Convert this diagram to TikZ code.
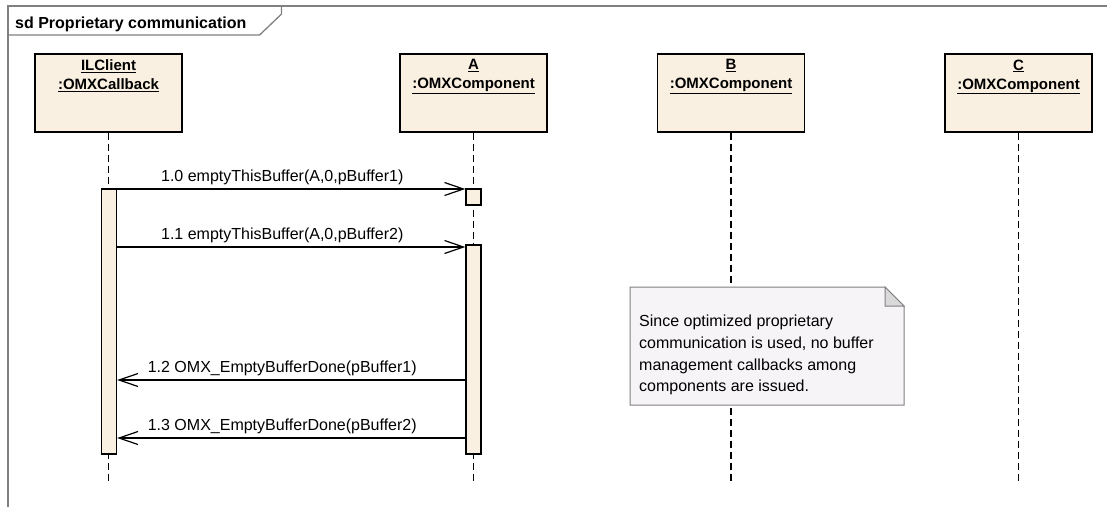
\documentclass[tikz,border=0pt]{standalone}
\usepackage{fontspec}
\setmainfont{Liberation Sans}
\usepackage{xcolor}
\usetikzlibrary{arrows.meta}
\usetikzlibrary{positioning}

\definecolor{headfill}{RGB}{250,240,225}
\definecolor{notefill}{RGB}{247,244,247}
\definecolor{framegray}{RGB}{128,128,128}
\definecolor{foldgray}{RGB}{217,217,217}

\begin{document}
\begin{tikzpicture}[x=1pt,y=-1pt,
  every node/.style={font=\fontsize{16}{19}\selectfont},
  head/.style={rectangle,draw,fill=headfill,line width=1.3pt,minimum width=147pt,minimum height=78pt,inner sep=0pt},
  headtext/.style={font=\fontsize{15}{19}\selectfont\bfseries,align=center,anchor=north,inner sep=0pt},
  life/.style={dash pattern=on 7pt off 4pt,line width=1.3pt},
  act/.style={rectangle,draw,fill=headfill,line width=1.3pt,minimum width=15pt,inner sep=0pt},
  msg/.style={line width=1.2pt,-{Straight Barb[length=19pt,width=13pt]}},
  msglabel/.style={above,inner sep=4pt,xshift=-9pt},
  frame/.style={draw=framegray,line width=1.3pt}]
\useasboundingbox (0,0) rectangle (1107,507);

% frame and its tab
\draw[frame] (8,507) -- (8,6) -- (1107,6);
\node[anchor=base west,inner sep=0pt,font=\fontsize{16}{19}\selectfont\bfseries] (title) at (15,28) {sd Proprietary communication};
\coordinate (tabb) at (0,35);
\path (title.east) ++(13,0) coordinate (tabc);
\draw[frame] (8,35) -- (tabc |- tabb) -- ++(22,-21) -- ++(0,-8);

% lifeline heads
\node[head] (il) at (108.5,93) {};
\node[head] (a) at (473.5,93) {};
\node[head] (b) at (731,93) {};
\node[head] (c) at (1018.5,93) {};
\node[headtext] (ilname) at ([yshift=-6pt]il.north) {\underline{ILClient}\\\underline{:OMXCallback}};
\node[headtext] (aname) at ([yshift=-6pt]a.north) {\underline{A}\\\underline{:OMXComponent}};
\node[headtext] (bname) at ([yshift=-6pt]b.north) {\underline{B}\\\underline{:OMXComponent}};
\node[headtext] (cname) at ([yshift=-6pt]c.north) {\underline{C}\\\underline{:OMXComponent}};

\coordinate (lifeend) at (0,484);
\foreach \n in {il,a,b,c}
  \draw[life] (\n.south) -- (\n.south |- lifeend);

% activations
\node[act,minimum height=265pt] (ilact) at (109,321.5) {};
\node[act,minimum height=16pt] (aact1) at (473.5,197) {};
\node[act,minimum height=209pt] (aact2) at (473.5,349.5) {};

% messages
\coordinate (y10) at (0,189);
\coordinate (y11) at (0,247);
\coordinate (y12) at (0,380);
\coordinate (y13) at (0,438);
\draw[msg] (ilact.east |- y10) -- node[msglabel] {1.0 emptyThisBuffer(A,0,pBuffer1)} (aact1.west |- y10);
\draw[msg] (ilact.east |- y11) -- node[msglabel] {1.1 emptyThisBuffer(A,0,pBuffer2)} (aact2.west |- y11);
\draw[msg] (aact2.west |- y12) -- node[msglabel] {1.2 OMX\_EmptyBufferDone(pBuffer1)} (ilact.east |- y12);
\draw[msg] (aact2.west |- y13) -- node[msglabel] {1.3 OMX\_EmptyBufferDone(pBuffer2)} (ilact.east |- y13);

% note
\draw[draw=framegray,fill=notefill,line width=1pt] (630,287) -- (885,287) -- (904,306) -- (904,405) -- (630,405) -- cycle;
\draw[draw=framegray,fill=foldgray,line width=1pt] (885,287) -- (885,306) -- (904,306) -- cycle;
\node[anchor=north west,inner sep=0pt,align=left,font=\fontsize{16}{21.7}\selectfont] (note) at (639,315)
  {Since optimized proprietary\\communication is used, no buffer\\management callbacks among\\components are issued.};
\end{tikzpicture}
\end{document}
